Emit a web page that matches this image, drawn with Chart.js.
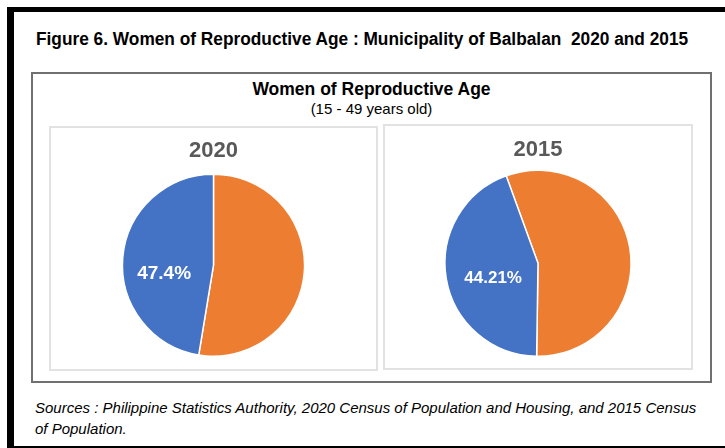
<!DOCTYPE html>
<html>
<head>
<meta charset="utf-8">
<script src="https://cdn.jsdelivr.net/npm/chart.js@4/dist/chart.umd.min.js"></script>
<style>
  html, body { margin: 0; padding: 0; background: #fff; }
  body { width: 725px; height: 448px; position: relative; overflow: hidden; font-family: "Liberation Sans", Arial, sans-serif; }
  .blk { position: absolute; background: #000; }
  .txt { position: absolute; white-space: pre; line-height: 1; color: #000; }
  #figTitle { left: 36px; top: 30px; font-size: 18px; font-weight: bold; transform-origin: left top; }
  #frame { position: absolute; left: 31px; top: 72px; width: 681px; height: 311px; box-sizing: border-box; border: 2px solid #707070; }
  #hdr { left: 31px; width: 681px; top: 81px; font-size: 17.5px; font-weight: bold; text-align: center; }
  #sub { left: 31px; width: 681px; top: 101px; font-size: 15px; text-align: center; }
  .panel { position: absolute; box-sizing: border-box; border: 2px solid #e2e2e2; }
  #src { left: 35px; top: 397px; font-size: 15px; font-style: italic; line-height: 21px; }
</style>
</head>
<body>
<div class="blk" style="left:7px;top:7px;width:718px;height:5px"></div>
<div class="blk" style="left:7px;top:7px;width:7px;height:441px"></div>
<div class="blk" style="left:7px;top:446px;width:718px;height:2px"></div>

<div id="figTitle" class="txt">Figure 6. Women of Reproductive Age : Municipality of Balbalan  2020 and 2015</div>

<div id="frame"></div>
<div id="hdr" class="txt">Women of Reproductive Age</div>
<div id="sub" class="txt">(15 - 49 years old)</div>

<div class="panel" style="left:49px;top:126px;width:329px;height:245px"><canvas id="pie2020"></canvas></div>
<div class="panel" style="left:383px;top:124px;width:310px;height:246px"><canvas id="pie2015"></canvas></div>

<div id="src" class="txt">Sources : Philippine Statistics Authority, 2020 Census of Population and Housing, and 2015 Census
of Population.</div>

<script>
// data
const categories = ['Other population', 'Women 15 - 49 years old'];
const values2020 = [52.6, 47.4];
const values2015 = [55.79, 44.21];
const sliceColors = ['#ED7D31', '#4472C4'];

// squeeze the figure title like the narrow font in the original
const ft = document.getElementById('figTitle');
ft.style.transform = 'scaleX(' + (652 / ft.scrollWidth) + ')';

// percent label inside the blue slice
const pctLabel = {
  id: 'pctLabel',
  afterDatasetsDraw(chart, args, opts) {
    const ctx = chart.ctx;
    const meta = chart.getDatasetMeta(0);
    const arc = meta.data[opts.index];
    const p = arc.getProps(['x', 'y', 'startAngle', 'endAngle', 'outerRadius'], true);
    const mid = (p.startAngle + p.endAngle) / 2;
    const r = p.outerRadius * 0.5;
    const v = chart.data.datasets[0].data[opts.index];
    ctx.save();
    ctx.fillStyle = '#fff';
    ctx.font = 'bold ' + opts.size + 'px "Liberation Sans", Arial, sans-serif';
    ctx.textAlign = 'center';
    ctx.textBaseline = 'middle';
    ctx.fillText(v + '%', p.x + Math.cos(mid) * r + opts.dx, p.y + Math.sin(mid) * r + opts.dy);
    ctx.restore();
  }
};

function pie(id, title, values, rotation, pad, titlePad, lbl) {
  new Chart(document.getElementById(id), {
    type: 'pie',
    data: {
      labels: categories,
      datasets: [{
        data: values,
        backgroundColor: sliceColors,
        borderColor: '#fff',
        borderWidth: 1.5
      }]
    },
    options: {
      responsive: true,
      maintainAspectRatio: false,
      animation: false,
      rotation: rotation,
      layout: { padding: pad },
      plugins: {
        legend: { display: false },
        tooltip: { enabled: false },
        title: {
          display: true,
          text: title,
          color: '#595959',
          font: { family: '"Liberation Sans", Arial, sans-serif', size: 22, weight: 'bold' },
          padding: titlePad
        },
        pctLabel: lbl
      }
    },
    plugins: [pctLabel]
  });
}

pie('pie2020', '2020', values2020, 0, { bottom: 12 }, { top: 10, bottom: 9 }, { index: 1, size: 19, dx: -4, dy: 12 });
pie('pie2015', '2015', values2015, -20, { bottom: 11 }, { top: 11, bottom: 6 }, { index: 1, size: 17, dx: 1, dy: 7 });
</script>
</body>
</html>
